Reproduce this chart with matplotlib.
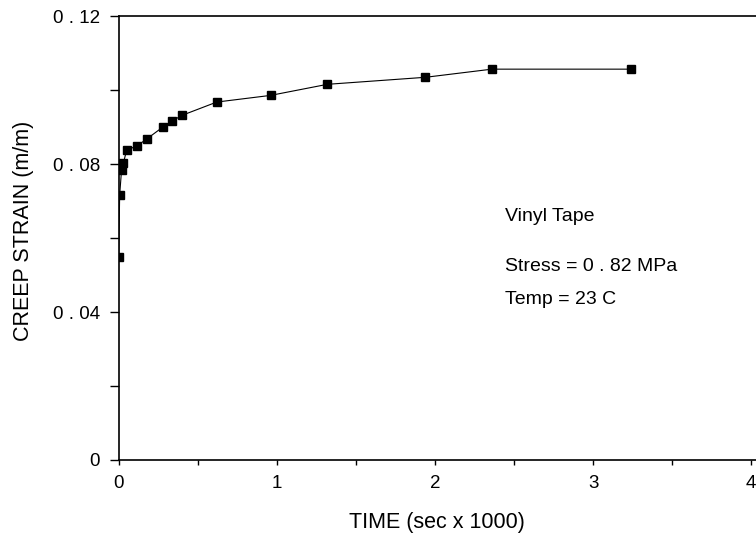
import matplotlib.pyplot as plt
from matplotlib.ticker import MultipleLocator, FuncFormatter

plt.rcParams['font.family'] = ['Liberation Sans', 'DejaVu Sans']

# creep data, time in sec x 1000, strain in m/m
time_k = [0.0, 0.006, 0.018, 0.03, 0.05, 0.114, 0.177, 0.278, 0.335, 0.40,
          0.62, 0.96, 1.32, 1.94, 2.36, 3.24]
strain = [0.0549, 0.0716, 0.0784, 0.0803, 0.0838, 0.0849, 0.0868, 0.0900,
          0.0916, 0.0932, 0.0968, 0.0986, 0.1016, 0.1035, 0.1057, 0.1057]

notes = ["Vinyl Tape", "Stress = 0 . 82 MPa", "Temp = 23 C"]
note_y = [0.0646, 0.0511, 0.0422]


def ylab(v, pos):
    if v == 0:
        return '0'
    return f'{v:.2f}'.replace('.', ' . ')


fig = plt.figure(figsize=(7.56, 5.43), dpi=100)
ax = fig.add_axes([0.157, 0.153, 0.843, 0.817])

ax.plot(time_k, strain, color='black', lw=0.8, marker='s', ms=5.8,
        mfc='black', mec='black')

ax.set_xlim(0, 4.03)
ax.set_ylim(0, 0.12)

ax.xaxis.set_major_locator(MultipleLocator(1))
ax.xaxis.set_minor_locator(MultipleLocator(0.5))
ax.yaxis.set_major_locator(MultipleLocator(0.04))
ax.yaxis.set_minor_locator(MultipleLocator(0.02))
ax.yaxis.set_major_formatter(FuncFormatter(ylab))

ax.tick_params(axis='y', which='both', direction='out', length=6.5, width=1, labelsize=13.5, pad=7)
ax.tick_params(axis='x', which='both', direction='out', length=3.6, width=1, labelsize=13.5, pad=7)

for s in ['left', 'bottom', 'top']:
    ax.spines[s].set_linewidth(1.2)
ax.spines['right'].set_visible(False)

ax.set_xlabel("TIME (sec x 1000)", fontsize=15.5, va='center')
ax.set_ylabel("CREEP STRAIN (m/m)", fontsize=15.5, va='center')
ax.xaxis.set_label_coords(0.5, -0.14)
ax.yaxis.set_label_coords(-0.149, 0.516)

for t, yy in zip(notes, note_y):
    ax.text(2.44, yy, t, fontsize=14, va='baseline', ha='left')

fig.savefig('out.png', dpi=100)
